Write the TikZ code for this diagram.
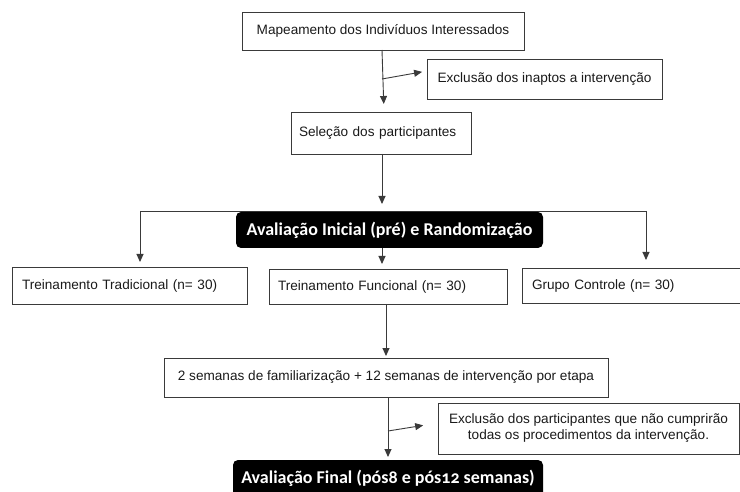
\documentclass[tikz,border=0pt]{standalone}
\usepackage{fontspec}
\setmainfont{Liberation Sans}
\newfontfamily\hfont{Carlito}[Numbers=OldStyle]
\usetikzlibrary{arrows.meta}
\definecolor{linec}{HTML}{3A3A3A}
\definecolor{txtc}{HTML}{1A1A1A}
\tikzset{
  box/.style={draw=linec, line width=0.9pt, inner sep=0pt, outer sep=0pt,
    font=\fontsize{13.6}{16}\selectfont, text=txtc},
  lbox/.style={box, align=left},
  blk/.style={fill=black, rounded corners=5pt, inner sep=0pt, outer sep=0pt,
    text=white, font=\hfont\bfseries\fontsize{18}{20}\selectfont},
  conn/.style={draw=linec, line width=0.9pt},
  arr/.style={conn, -{Triangle[length=8pt,width=7pt]}}
}
\begin{document}
\begin{tikzpicture}[x=1pt,y=-1pt]
\useasboundingbox (0,0) rectangle (740,492);
% branch line behind the black box
\draw[conn] (140,211) coordinate (bl) -- (646,211) coordinate (br);
\node[box, minimum width=282pt, minimum height=38pt] (map) at (383,31) {Mapeamento dos Indivíduos Interessados};
\node[box, minimum width=235pt, minimum height=40pt] (ex1) at (544.5,79) {Exclusão dos inaptos a intervenção};
\node[lbox, minimum width=180pt, minimum height=42pt, text width=164pt] (sel) at (381,133) {Seleção dos participantes};
\node[blk, minimum width=307pt, minimum height=36pt] (av1) at (389.5,230) {Avaliação Inicial (pré) e Randomização};
\node[lbox, minimum width=235pt, minimum height=37pt, text width=215pt] (tt) at (129.5,285.5) {Treinamento Tradicional (n= 30)};
\node[lbox, minimum width=238pt, minimum height=35pt, text width=220pt] (tf) at (388,286.5) {Treinamento Funcional (n= 30)};
\node[lbox, minimum width=219pt, minimum height=35pt, text width=199pt] (gc) at (631.5,285.5) {Grupo Controle (n= 30)};
\node[box, minimum width=444pt, minimum height=39pt] (sem) at (386,377.5) {2 semanas de familiarização + 12 semanas de intervenção por etapa};
\node[box, minimum width=301pt, minimum height=51pt, align=center] (ex2) at (588.5,428.5) {Exclusão dos participantes que não cumprirão\\todas os procedimentos da intervenção.};
\node[blk, minimum width=310pt, minimum height=37pt] (av2) at (388,478.5) {Avaliação Final (pós8 e pós12 semanas)};
% connectors
\draw[arr, shorten >=8pt] ([xshift=-1pt]map.south) -- ([xshift=1pt]map.south |- sel.north);
\coordinate (e1s) at (382,79);
\draw[arr, shorten >=5pt] (e1s) -- ([yshift=8pt]ex1.west);
\draw[arr, shorten >=8pt] (382,154) -- (382,212);
\draw[arr, shorten >=5pt] (bl) -- (bl |- tt.north);
\draw[arr, shorten >=8pt] (br) -- (br |- gc.north);
\draw[arr, shorten >=5pt] (382,248) -- (382,269);
\draw[arr, shorten >=2pt] ([xshift=-2pt]tf.south) -- ([xshift=-2pt]tf.south |- sem.north);
\coordinate (e2s) at (388,431);
\draw[arr, shorten >=15pt] (e2s) -- ([yshift=5.5pt]ex2.west);
\draw[arr, shorten >=3pt] ([xshift=2pt]sem.south) -- ([xshift=2pt]sem.south |- av2.north);
\end{tikzpicture}
\end{document}
